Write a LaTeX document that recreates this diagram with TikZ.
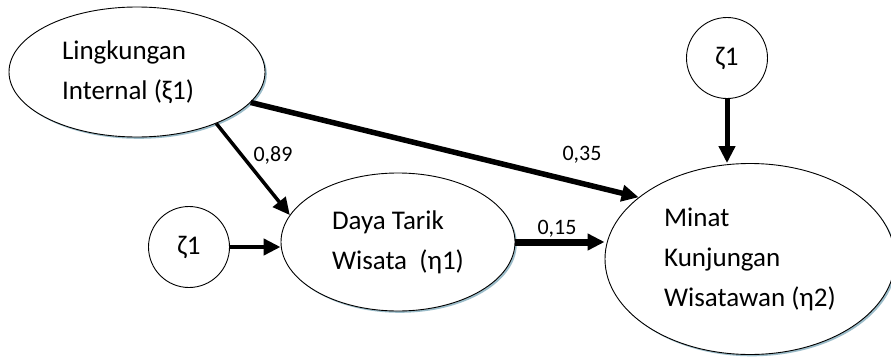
\documentclass[tikz,border=0pt]{standalone}
\usepackage{fontspec}
\setmainfont{Carlito}
\usetikzlibrary{arrows.meta,shapes.geometric}
\begin{document}
\begin{tikzpicture}[x=1pt,y=-1pt,
  lat/.style={ellipse, draw, fill=white, line width=0.9pt, inner sep=0pt, align=left,
    font=\fontsize{27}{40}\selectfont,
    preaction={fill=cyan!35!gray!70, transform canvas={shift={(1.8pt,-1.8pt)}}}},
  err/.style={circle, draw, fill=white, line width=0.9pt, minimum size=81pt, inner sep=0pt,
    font=\fontsize{27}{30}\selectfont},
  arr/.style={-{Triangle[length=17pt,width=16pt]}},
  coef/.style={font=\fontsize{22}{24}\selectfont, inner sep=0pt}
]
\useasboundingbox (0,0) rectangle (891,359);
\fill[white] (0,0) rectangle (891,359);
\node[lat, minimum width=256pt, minimum height=130pt] (A) at (137,72) {Lingkungan\\Internal (ξ1)\hspace*{18pt}};
\node[lat, minimum width=234pt, minimum height=138pt] (B) at (398,242) {Daya Tarik\\Wisata\ \ (η1)};
\node[lat, minimum width=290pt, minimum height=191pt] (C) at (750,259) {Minat\\Kunjungan\\Wisatawan (η2)};
\node[err] (zL) at (189,247) {ζ1};
\node[err] (zT) at (727,58) {ζ1};

\draw[arr, line width=5.5pt] (A.-15) -- (C.151);
\draw[arr, line width=3.5pt] (A.-33) -- (B.166);
\draw[arr, line width=4.5pt] (zL.east) -- (zL.east -| B.west);
\draw[arr, line width=7pt] (B.east) -- (B.east -| C.west);
\draw[arr, line width=5pt] (zT.south) -- (zT.south |- C.north);

\node[coef] (c1) at (273,155) {0,89};
\node[coef] (c2) at (582,155) {0,35};
\node[coef] (c3) at (557,229) {0,15};
\end{tikzpicture}
\end{document}
